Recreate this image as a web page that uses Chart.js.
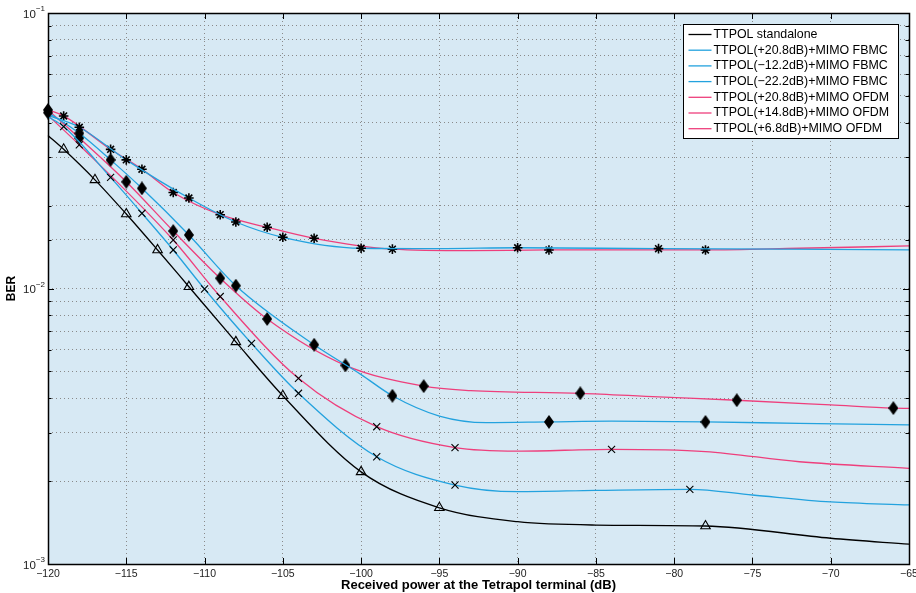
<!DOCTYPE html>
<html>
<head>
<meta charset="utf-8">
<script src="https://cdn.jsdelivr.net/npm/chart.js@4.4.1/dist/chart.umd.min.js"></script>
<style>
  html, body { margin: 0; padding: 0; background: #fff; }
</style>
</head>
<body>
<canvas id="ber" width="916" height="593"></canvas>
<script>
// ── Data (x in dB, y = BER) ─────────────────────────────────
const xTicks = [-120, -115, -110, -105, -100, -95, -90, -85, -80, -75, -70, -65];

const labels = [
  'TTPOL standalone',
  'TTPOL(+20.8dB)+MIMO FBMC',
  'TTPOL(\u221212.2dB)+MIMO FBMC',
  'TTPOL(\u221222.2dB)+MIMO FBMC',
  'TTPOL(+20.8dB)+MIMO OFDM',
  'TTPOL(+14.8dB)+MIMO OFDM',
  'TTPOL(+6.8dB)+MIMO OFDM',
];

const standaloneX = [-120, -119, -117, -115, -113, -111, -108, -105, -100, -95, -90, -85, -78, -70, -65];
const standaloneY = [0.0359, 0.0320, 0.0248, 0.01864, 0.0138, 0.01015, 0.0064, 0.00408, 0.00216, 0.0016, 0.001424, 0.001385, 0.001374, 0.00124, 0.00118];
const standaloneMarks = [-119, -117, -115, -113, -111, -108, -105, -100, -95, -78];

const fbmc208X = [-120, -119, -116, -114, -112, -110, -107, -104, -99, -94, -90, -85, -79, -75, -70, -65];
const fbmc208Y = [0.0420, 0.0387, 0.0253, 0.01875, 0.0138, 0.00996, 0.00632, 0.004165, 0.002451, 0.001935, 0.00183, 0.00185, 0.001867, 0.00178, 0.00168, 0.001638];
const fbmc208Marks = [-119, -116, -114, -112, -110, -107, -104, -99, -94, -79];

const fbmc122X = [-120, -118, -116, -114, -111, -108, -103, -100, -98, -95, -92, -88, -84, -78, -72, -65];
const fbmc122Y = [0.0435, 0.0366, 0.0293, 0.0231, 0.01564, 0.01024, 0.00625, 0.00487, 0.00408, 0.003445, 0.00326, 0.00328, 0.0033, 0.00328, 0.00324, 0.0032];
const fbmc122Marks = [-120, -118, -116, -114, -111, -108, -103, -98, -88, -78];

const fbmc222X = [-120, -118, -115, -111, -108, -105, -100, -95, -90, -81, -73, -65];
const fbmc222Y = [0.0425, 0.0385, 0.0293, 0.0213, 0.01743, 0.01534, 0.0140, 0.01395, 0.01406, 0.01395, 0.0139, 0.0138];
const fbmc222Marks = [-118, -115, -111, -108, -105, -100, -90, -81];

const ofdm208X = [-120, -118, -112, -109, -104, -99, -94, -90, -84, -78, -72, -65];
const ofdm208Y = [0.0425, 0.0332, 0.015, 0.00935, 0.00472, 0.00315, 0.002644, 0.002568, 0.002608, 0.00256, 0.00235, 0.002225];
const ofdm208Marks = [-118, -112, -109, -104, -99, -94, -84];

const ofdm148X = [-120, -118, -115, -112, -109, -106, -101, -96, -93, -86, -81, -76, -70, -66, -65];
const ofdm148Y = [0.0445, 0.0352, 0.0244, 0.01617, 0.01089, 0.00775, 0.00526, 0.00442, 0.00426, 0.004165, 0.00404, 0.00393, 0.00378, 0.00368, 0.00367];
const ofdm148Marks = [-120, -118, -115, -112, -109, -106, -101, -96, -86, -76, -66];

const ofdm68X = [-120, -119, -116, -114, -112, -109, -106, -103, -98, -93, -88, -78, -72, -65];
const ofdm68Y = [0.0445, 0.0423, 0.0320, 0.0271, 0.0223, 0.01853, 0.01668, 0.01521, 0.0139, 0.01372, 0.0138, 0.0138, 0.0140, 0.01427];
const ofdm68Marks = [-119, -116, -114, -112, -109, -106, -103, -98, -88, -78];

// ── Styling ──────────────────────────────────────────────
const BLACK = '#000000';
const BLUE = '#23a2de';
const PINK = '#ee3f7c';
const PLOT_BG = '#d7e9f4';
const GRID = '#8a8a8a';
const FONT = "'Liberation Sans', Arial, Helvetica, sans-serif";

function markerCanvas(w, h, draw) {
  const c = document.createElement('canvas');
  c.width = w; c.height = h;
  draw(c.getContext('2d'), w, h);
  return c;
}

const diamond = markerCanvas(10, 14, (g, w, h) => {
  g.fillStyle = '#000';
  g.beginPath();
  g.moveTo(w / 2, 0); g.lineTo(w, h / 2); g.lineTo(w / 2, h); g.lineTo(0, h / 2);
  g.closePath();
  g.fill();
});

function toPoints(xs, ys) {
  return xs.map((x, i) => ({ x, y: ys[i] }));
}

function series(label, xs, ys, marks, color, marker) {
  return {
    label,
    data: toPoints(xs, ys),
    borderColor: color,
    borderWidth: 1.3,
    fill: false,
    cubicInterpolationMode: 'monotone',
    clip: 10,
    pointStyle: marker.style,
    pointRadius: ctx => (ctx.raw && marks.includes(ctx.raw.x)) ? marker.r : 0,
    pointBorderColor: '#000',
    pointBackgroundColor: marker.fill,
    pointBorderWidth: marker.bw,
  };
}

const TRI = { style: 'triangle', r: 5.5, fill: 'rgba(0,0,0,0)', bw: 1.1 };
const XM = { style: 'crossRot', r: 5, fill: '#000', bw: 1.1 };
const DIA = { style: diamond, r: 5, fill: '#000', bw: 1 };
const AST = { style: 'star', r: 4.8, fill: '#000', bw: 1.6 };

const datasets = [
  series(labels[0], standaloneX, standaloneY, standaloneMarks, BLACK, TRI),
  series(labels[1], fbmc208X, fbmc208Y, fbmc208Marks, BLUE, XM),
  series(labels[2], fbmc122X, fbmc122Y, fbmc122Marks, BLUE, DIA),
  series(labels[3], fbmc222X, fbmc222Y, fbmc222Marks, BLUE, AST),
  series(labels[4], ofdm208X, ofdm208Y, ofdm208Marks, PINK, XM),
  series(labels[5], ofdm148X, ofdm148Y, ofdm148Marks, PINK, DIA),
  series(labels[6], ofdm68X, ofdm68Y, ofdm68Marks, PINK, AST),
];

const isDecade = v => Math.abs(Math.log10(v) - Math.round(Math.log10(v))) < 1e-6;
const minus = v => String(v).replace('-', '\u2212');

// ── Plot frame, inner ticks, tick labels and legend ──────
const framePlugin = {
  id: 'frame',
  beforeDraw(chart) {
    const { ctx, chartArea: a } = chart;
    ctx.save();
    ctx.fillStyle = '#fff';
    ctx.fillRect(0, 0, chart.width, chart.height);
    ctx.fillStyle = PLOT_BG;
    ctx.fillRect(a.left, a.top, a.right - a.left, a.bottom - a.top);
    ctx.restore();
  },
  afterDraw(chart) {
    const { ctx, chartArea: a, scales: { x, y } } = chart;
    ctx.save();
    ctx.strokeStyle = '#000';
    ctx.lineWidth = 1;
    ctx.beginPath();
    x.ticks.forEach(t => {
      const px = Math.round(x.getPixelForValue(t.value)) + 0.5;
      ctx.moveTo(px, a.bottom); ctx.lineTo(px, a.bottom - 6);
      ctx.moveTo(px, a.top); ctx.lineTo(px, a.top + 6);
    });
    y.ticks.forEach(t => {
      const py = Math.round(y.getPixelForValue(t.value)) + 0.5;
      const len = isDecade(t.value) ? 6 : 3.5;
      ctx.moveTo(a.left, py); ctx.lineTo(a.left + len, py);
      ctx.moveTo(a.right, py); ctx.lineTo(a.right - len, py);
    });
    ctx.stroke();
    ctx.lineWidth = 1.5;
    ctx.strokeRect(Math.round(a.left) + 0.5, Math.round(a.top) + 0.5,
      Math.round(a.right - a.left), Math.round(a.bottom - a.top));

    // x tick labels
    ctx.fillStyle = '#222';
    ctx.font = '10.5px ' + FONT;
    ctx.textAlign = 'center';
    ctx.textBaseline = 'middle';
    x.ticks.forEach(t => {
      ctx.fillText(minus(t.value), x.getPixelForValue(t.value), a.bottom + 10);
    });

    // y tick labels 10^n
    y.ticks.filter(t => isDecade(t.value)).forEach(t => {
      const py = y.getPixelForValue(t.value);
      const exp = minus(Math.round(Math.log10(t.value)));
      ctx.font = '8px ' + FONT;
      const ew = ctx.measureText(exp).width;
      const right = a.left - 3;
      ctx.textBaseline = 'middle';
      ctx.textAlign = 'left';
      ctx.fillText(exp, right - ew, py - 4);
      ctx.font = '11.5px ' + FONT;
      ctx.textAlign = 'right';
      ctx.fillText('10', right - ew, py + 1.5);
    });

    // legend
    const lx = a.right - 225.5, ly = a.top + 11.5, lw = 215, lh = 114;
    ctx.fillStyle = '#fff';
    ctx.fillRect(lx, ly, lw, lh);
    ctx.lineWidth = 1;
    ctx.strokeStyle = '#000';
    ctx.strokeRect(lx, ly, lw, lh);
    ctx.font = '12.4px ' + FONT;
    ctx.textAlign = 'left';
    ctx.textBaseline = 'middle';
    chart.data.datasets.forEach((ds, i) => {
      const ry = ly + 10 + i * 15.7;
      ctx.strokeStyle = ds.borderColor;
      ctx.lineWidth = 1.3;
      ctx.beginPath();
      ctx.moveTo(lx + 5, ry); ctx.lineTo(lx + 28, ry);
      ctx.stroke();
      ctx.fillStyle = '#000';
      ctx.fillText(ds.label, lx + 30, ry);
    });
    ctx.restore();
  }
};

new Chart(document.getElementById('ber'), {
  type: 'line',
  data: { datasets },
  options: {
    responsive: false,
    devicePixelRatio: 1,
    animation: false,
    events: [],
    layout: { padding: { left: 0, right: 7, top: 13, bottom: 0 } },
    plugins: { legend: { display: false }, tooltip: { enabled: false } },
    scales: {
      x: {
        type: 'linear',
        min: xTicks[0],
        max: xTicks[xTicks.length - 1],
        afterBuildTicks: s => { s.ticks = xTicks.map(v => ({ value: v })); },
        afterFit: s => { s.height = 29; },
        grid: { color: GRID, lineWidth: 1, drawTicks: false },
        border: { display: false, dash: [1, 3] },
        ticks: { display: false },
        title: {
          display: true,
          text: 'Received power at the Tetrapol terminal (dB)',
          color: '#000',
          font: { family: FONT, size: 13, weight: 'bold' },
          padding: { top: 0, bottom: 0 },
        },
      },
      y: {
        type: 'logarithmic',
        min: 0.001,
        max: 0.1,
        afterFit: s => { s.width = 48; },
        grid: { color: GRID, lineWidth: 1, drawTicks: false },
        border: { display: false, dash: [1, 3] },
        ticks: { display: false, autoSkip: false },
        title: {
          display: true,
          text: 'BER',
          color: '#000',
          font: { family: FONT, size: 12, weight: 'bold' },
          padding: { top: 4, bottom: 0 },
        },
      },
    },
  },
  plugins: [framePlugin],
});
</script>
</body>
</html>
